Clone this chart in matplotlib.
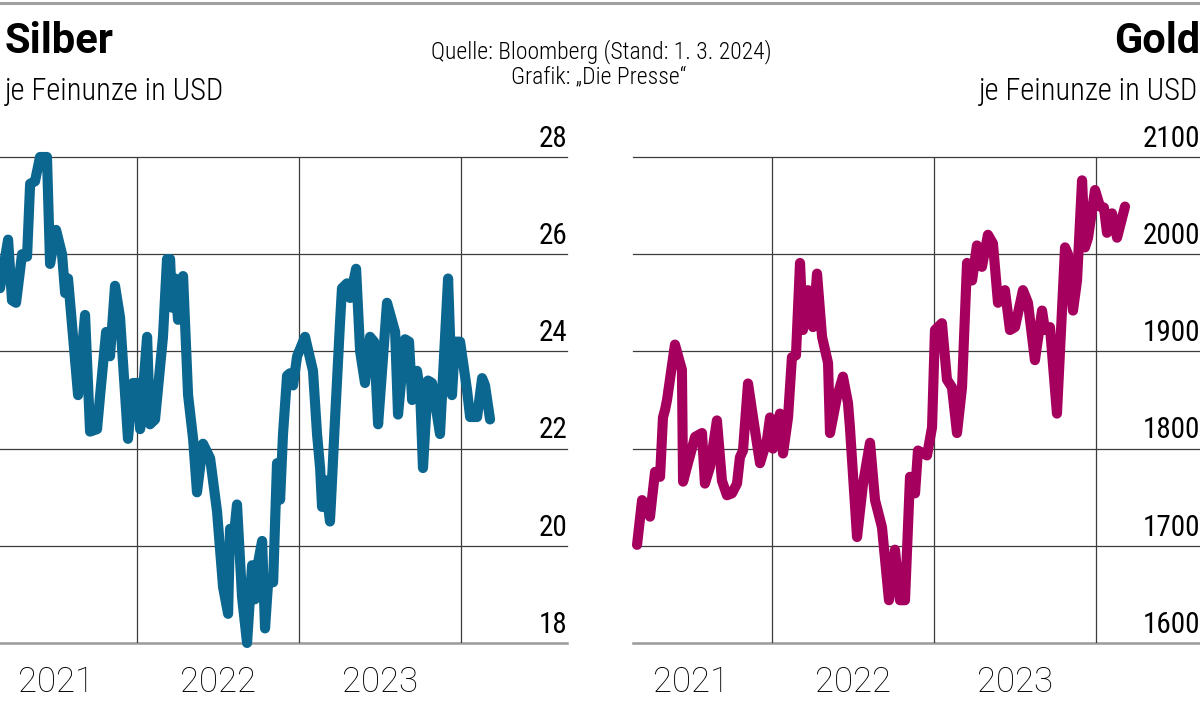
import matplotlib
matplotlib.use("Agg")
import matplotlib.pyplot as plt
from matplotlib.lines import Line2D

# fonts: condensed family if there is one, Roboto otherwise
plt.rcParams["font.family"] = ["Roboto Condensed", "Liberation Sans Narrow", "Roboto", "DejaVu Sans"]
plt.rcParams["font.stretch"] = "condensed"

# --- data (decimal years) ---
silber_t = [2021.154, 2021.204, 2021.228, 2021.253, 2021.290, 2021.321, 2021.340, 2021.370,
            2021.401, 2021.444, 2021.463, 2021.500, 2021.537, 2021.556, 2021.574, 2021.636,
            2021.679, 2021.710, 2021.753, 2021.772, 2021.809, 2021.833, 2021.864, 2021.895,
            2021.944, 2021.975, 2022.006, 2022.019, 2022.062, 2022.080, 2022.111, 2022.160,
            2022.185, 2022.204, 2022.216, 2022.235, 2022.253, 2022.284, 2022.315, 2022.346,
            2022.370, 2022.407, 2022.451, 2022.494, 2022.531, 2022.562, 2022.574, 2022.593,
            2022.617, 2022.648, 2022.679, 2022.710, 2022.728, 2022.747, 2022.772, 2022.790,
            2022.809, 2022.840, 2022.864, 2022.883, 2022.901, 2022.926, 2022.944, 2022.963,
            2022.988, 2023.037, 2023.086, 2023.111, 2023.130, 2023.142, 2023.160, 2023.191,
            2023.222, 2023.253, 2023.265, 2023.296, 2023.315, 2023.352, 2023.377, 2023.407,
            2023.438, 2023.463, 2023.488, 2023.543, 2023.593, 2023.611, 2023.654, 2023.679,
            2023.698, 2023.728, 2023.747, 2023.765, 2023.796, 2023.821, 2023.870, 2023.920,
            2023.944, 2023.963, 2023.994, 2024.037, 2024.056, 2024.099, 2024.130, 2024.148,
            2024.179]
silber_usd = [25.3, 26.3, 25.05, 25.0, 26.0, 25.95, 27.45, 27.5,
              28.0, 28.0, 25.8, 26.5, 26.0, 25.2, 25.5, 23.1,
              24.75, 22.35, 22.4, 23.1, 24.4, 23.9, 25.35, 24.7,
              22.2, 23.35, 23.35, 22.4, 24.3, 22.5, 22.6, 24.3,
              25.9, 25.9, 24.9, 25.5, 24.65, 25.55, 23.1, 22.2,
              21.1, 22.1, 21.8, 20.7, 19.15, 18.6, 20.35, 20.05,
              20.85, 18.95, 18.0, 19.6, 18.9, 19.65, 20.1, 18.3,
              19.25, 19.25, 21.7, 20.95, 22.3, 23.5, 23.55, 23.3,
              23.9, 24.3, 23.6, 22.3, 21.6, 20.8, 21.35, 20.5,
              22.6, 24.6, 25.3, 25.4, 25.1, 25.7, 24.0, 23.35,
              24.3, 24.2, 22.5, 25.0, 24.4, 22.7, 24.25, 24.2,
              23.0, 23.6, 23.2, 21.6, 23.4, 23.35, 22.3, 25.5,
              23.1, 24.2, 24.2, 23.2, 22.65, 22.65, 23.45, 23.3,
              22.6]

gold_t = [2021.167, 2021.198, 2021.222, 2021.247, 2021.278, 2021.309, 2021.327, 2021.340,
          2021.352, 2021.401, 2021.444, 2021.451, 2021.481, 2021.525, 2021.568, 2021.586,
          2021.617, 2021.660, 2021.691, 2021.722, 2021.753, 2021.784, 2021.802, 2021.821,
          2021.852, 2021.883, 2021.926, 2021.969, 2021.988, 2022.006, 2022.049, 2022.068,
          2022.099, 2022.123, 2022.148, 2022.173, 2022.191, 2022.222, 2022.253, 2022.278,
          2022.309, 2022.346, 2022.358, 2022.401, 2022.438, 2022.469, 2022.481, 2022.525,
          2022.562, 2022.605, 2022.636, 2022.679, 2022.722, 2022.759, 2022.790, 2022.821,
          2022.852, 2022.883, 2022.901, 2022.957, 2022.988, 2023.006, 2023.049, 2023.080,
          2023.111, 2023.142, 2023.173, 2023.204, 2023.235, 2023.265, 2023.296, 2023.333,
          2023.364, 2023.395, 2023.438, 2023.469, 2023.500, 2023.549, 2023.580, 2023.623,
          2023.667, 2023.685, 2023.716, 2023.759, 2023.809, 2023.827, 2023.858, 2023.883,
          2023.914, 2023.932, 2023.951, 2023.994, 2024.025, 2024.049, 2024.068, 2024.099,
          2024.130, 2024.179]
gold_usd = [1701, 1747, 1742, 1730, 1776, 1771, 1832, 1840,
            1850, 1907, 1881, 1766, 1785, 1812, 1816, 1764,
            1781, 1829, 1767, 1752, 1754, 1764, 1791, 1798,
            1867, 1832, 1785, 1809, 1832, 1800, 1836, 1795,
            1832, 1894, 1896, 1991, 1922, 1963, 1925, 1980,
            1915, 1888, 1816, 1853, 1874, 1847, 1822, 1709,
            1764, 1806, 1747, 1719, 1644, 1696, 1644, 1644,
            1771, 1754, 1798, 1793, 1822, 1922, 1929, 1871,
            1863, 1816, 1863, 1991, 1973, 2009, 1987, 2020,
            2011, 1950, 1963, 1922, 1925, 1963, 1950, 1891,
            1942, 1922, 1925, 1836, 2007, 2000, 1942, 1973,
            2076, 2007, 2017, 2066, 2049, 2048, 2022, 2042,
            2017, 2049]

silber_ticks = [18, 20, 22, 24, 26, 28]
gold_ticks = [1600, 1700, 1800, 1900, 2000, 2100]
year_lines = [2022, 2023, 2024]
year_mids = [2021.5, 2022.5, 2023.5]
year_labels = ["2021", "2022", "2023"]

W, H = 1200, 702
fig = plt.figure(figsize=(W / 100, H / 100), dpi=100)


def px_rect(x0, y0, x1, y1):
    return [x0 / W, 1 - y1 / H, (x1 - x0) / W, (y1 - y0) / H]


def panel(rect, xlim, t, v, ticks, color):
    ax = fig.add_axes(rect)
    ax.set_xlim(*xlim)
    ax.set_ylim(ticks[0], ticks[-1])
    for s in ax.spines.values():
        s.set_visible(False)
    ax.set_yticks([])
    ax.set_xticks(year_lines)
    ax.set_xticks(year_mids, minor=True)
    ax.set_xticklabels([])
    ax.set_xticklabels(year_labels, minor=True, fontsize=25, fontweight="light",
                       fontstretch="normal", family="Roboto")
    ax.tick_params(axis="x", which="both", length=0)
    ax.tick_params(axis="x", which="minor", pad=16)
    for y in ticks[1:]:
        ax.axhline(y, color="#3c3c3c", lw=0.9, clip_on=False, zorder=1)
    ax.axhline(ticks[0], color="#9a9a9a", lw=1.8, clip_on=False, zorder=1)
    for x in year_lines:
        ax.axvline(x, color="#3c3c3c", lw=0.9, zorder=1)
    for y in ticks:
        ax.annotate(str(y), xy=(1, y), xycoords=("axes fraction", "data"),
                    xytext=(0, 3), textcoords="offset points",
                    ha="right", va="bottom", fontsize=21, fontweight="normal")
    ax.plot(t, v, color=color, lw=7.3, solid_joinstyle="round",
            solid_capstyle="round", clip_on=False, zorder=3)
    return ax


panel(px_rect(0, 157, 567, 643), (2021.154, 2024.654), silber_t, silber_usd,
      silber_ticks, "#0b6690")
panel(px_rect(633, 157, 1200, 643), (2021.142, 2024.642), gold_t, gold_usd,
      gold_ticks, "#a6005e")

# header
fig.add_artist(Line2D([0, 1], [1 - 3 / H, 1 - 3 / H], color="#a0a0a0", lw=2.2))
fig.text(5 / W, 1 - 53 / H, "Silber", fontsize=30, fontweight="bold", va="baseline",
         family="Roboto", fontstretch="normal")
fig.text(5 / W, 1 - 100 / H, "je Feinunze in USD", fontsize=22, fontweight="light",
         va="baseline")
fig.text(1.0, 1 - 53 / H, "Gold", fontsize=30, fontweight="bold", va="baseline", ha="right",
         family="Roboto", fontstretch="normal")
fig.text(1198 / W, 1 - 100 / H, "je Feinunze in USD", fontsize=22, fontweight="light",
         va="baseline", ha="right")
fig.text(601 / W, 1 - 58 / H, "Quelle: Bloomberg (Stand: 1. 3. 2024)", fontsize=17,
         fontweight="light", va="baseline", ha="center")
fig.text(599 / W, 1 - 83 / H, "Grafik: \u201eDie Presse\u201c", fontsize=17,
         fontweight="light", va="baseline", ha="center")

fig.savefig("out.png", dpi=100)
